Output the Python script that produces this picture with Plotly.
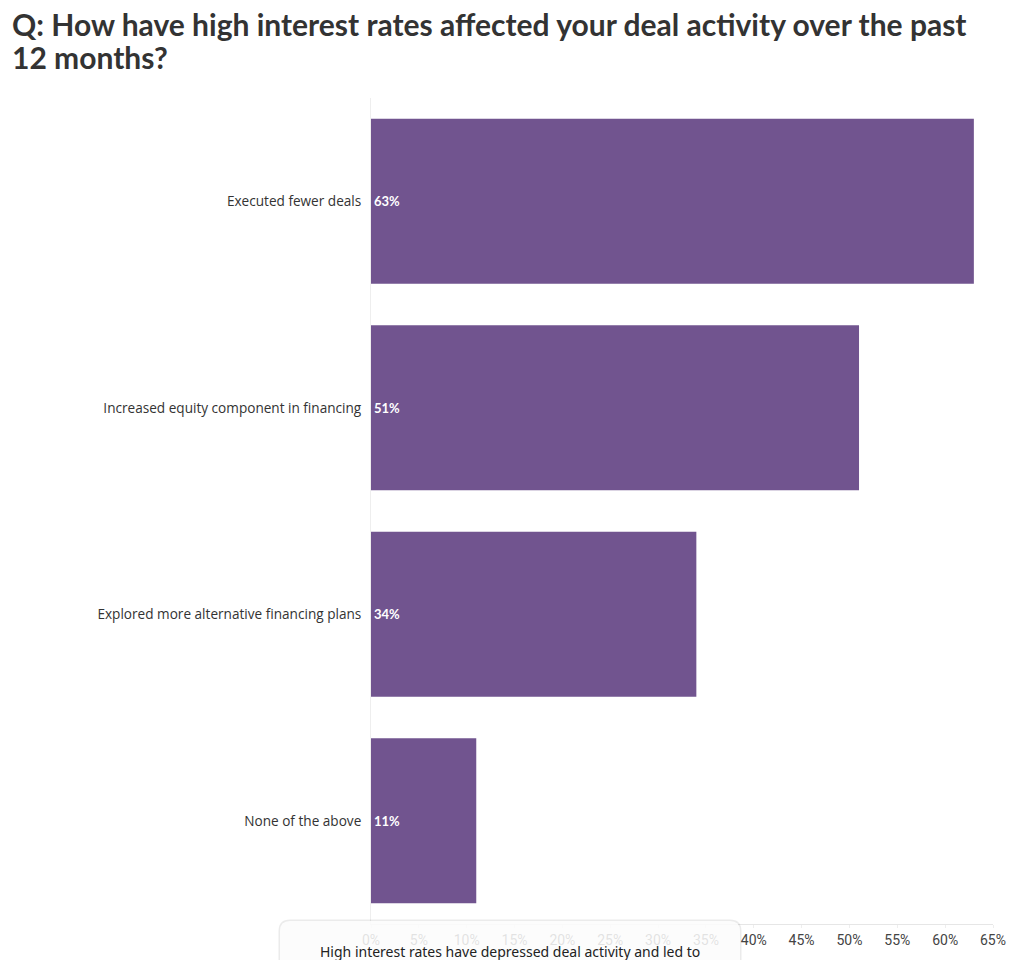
import plotly.graph_objects as go

categories = ["Executed fewer deals", "Increased equity component in financing",
              "Explored more alternative financing plans", "None of the above"]
values = [63, 51, 34, 11]
tick_vals = [0, 5, 10, 15, 20, 25, 30, 35, 40, 45, 50, 55, 60, 65]
tick_text = [f"{v}%" for v in tick_vals]
title_lines = ["Q: How have high interest rates affected your deal activity over the past",
               "12 months?"]
popup_text = "High interest rates have depressed deal activity and led to"

OFF = 8  # page body margin
W, H = 1020, 960
L, R, T, B = 371 - OFF, 27 + OFF, 98 - OFF, 36 + OFF
pw, ph = W - L - R, H - T - B

def px(x):
    return (x - OFF - L) / pw

def py(y):
    return (H - B - (y - OFF)) / ph

fig = go.Figure(go.Bar(
    y=categories, x=values, orientation="h",
    marker=dict(color="#71548F", line=dict(width=0)),
    text=[f"{v}%" for v in values], textposition="inside",
    insidetextanchor="start",
    textfont=dict(color="white", size=13, family="Lato", weight="bold"),
    cliponaxis=False,
))

# rounded popup box
x0, x1, y0, y1, r = 280, 740, 921, 985, 10
path = (f"M {px(x0)},{py(y0 + r)} Q {px(x0)},{py(y0)} {px(x0 + r)},{py(y0)} "
        f"L {px(x1 - r)},{py(y0)} Q {px(x1)},{py(y0)} {px(x1)},{py(y0 + r)} "
        f"L {px(x1)},{py(y1)} L {px(x0)},{py(y1)} Z")
shadow = (f"M {px(x0-1.5)},{py(y0 + r)} Q {px(x0-1.5)},{py(y0-1.5)} {px(x0 + r)},{py(y0-1.5)} "
          f"L {px(x1 - r)},{py(y0-1.5)} Q {px(x1+1.5)},{py(y0-1.5)} {px(x1+1.5)},{py(y0 + r)} "
          f"L {px(x1+1.5)},{py(y1)} L {px(x0-1.5)},{py(y1)} Z")

title_font = dict(family="Lato", size=30, color="#333333", weight="bold")
annotations = [
    dict(text=line, xref="paper", yref="paper", x=px(10), y=py(yc),
         xanchor="left", yanchor="middle", align="left", showarrow=False,
         font=title_font)
    for line, yc in zip(title_lines, [24, 57])
]
annotations.append(dict(text=popup_text, xref="paper", yref="paper",
                        x=px(510), y=py(951), xanchor="center", yanchor="middle",
                        showarrow=False,
                        font=dict(family="Noto Sans", size=14, color="#222222")))

fig.update_layout(
    width=W, height=H,
    margin=dict(l=L, r=R, t=T, b=B, autoexpand=False),
    paper_bgcolor="white", plot_bgcolor="white",
    bargap=0.2,
    showlegend=False,
    xaxis=dict(range=[0, 65], tickvals=tick_vals, ticktext=tick_text,
               showgrid=False, zeroline=False, showline=True, linecolor="#e6e6e6",
               ticks="outside", ticklen=3, tickcolor="#eeeeee",
               tickfont=dict(family="Roboto", size=14, color="#444444")),
    yaxis=dict(autorange="reversed", showgrid=False, zeroline=False,
               showline=True, linecolor="#eeeeee", ticks="", ticklabelstandoff=6,
               tickfont=dict(family="Open Sans", size=13.6, color="#333333")),
    shapes=[
        dict(type="path", path=shadow, xref="paper", yref="paper",
             fillcolor="rgba(0,0,0,0.08)", line=dict(width=0), layer="above"),
        dict(type="path", path=path, xref="paper", yref="paper",
             fillcolor="rgba(255,255,255,0.85)", line=dict(width=0), layer="above"),
    ],
    annotations=annotations,
)
fig.write_html("out.html")
